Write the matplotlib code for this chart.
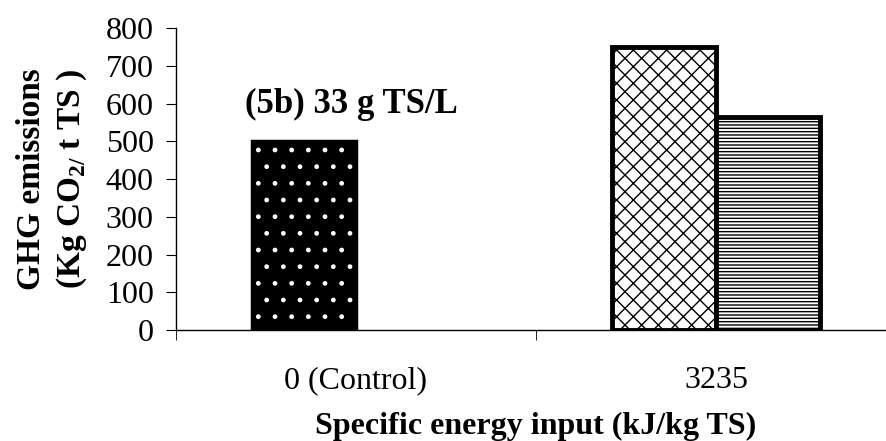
import numpy as np
import matplotlib
matplotlib.use("Agg")
import matplotlib.pyplot as plt

# data
categories = ["0 (Control)", "3235"]
control = [500]          # dotted bar, control
series_a = [750]         # brick-hatched bar, 3235 kJ/kg TS
series_b = [563]         # horizontal-line bar, 3235 kJ/kg TS
yticks = [0, 100, 200, 300, 400, 500, 600, 700, 800]

plt.rcParams['font.family'] = ['Liberation Serif', 'DejaVu Serif']
plt.rcParams['mathtext.fontset'] = 'custom'
plt.rcParams['mathtext.rm'] = 'Liberation Serif'
plt.rcParams['mathtext.bf'] = 'Liberation Serif:bold'
plt.rcParams['hatch.linewidth'] = 1.0

fig = plt.figure(figsize=(8.87, 4.41), dpi=100)
ax = fig.add_axes([0.1984, 0.2517, 0.8117, 0.6848])

w = 0.29
# control: black bar with white dots
ax.bar([0.5 - w / 2], control, width=w, color="black", edgecolor="white",
       hatch=".", linewidth=0, zorder=2)
ax.bar([0.5 - w / 2], control, width=w, fill=False, edgecolor="black",
       linewidth=2.5, zorder=3)

# 3235: two treated bars
ax.bar([1.5 - w / 2], series_a, width=w, color="white", edgecolor="black",
       hatch="xx", linewidth=3.5, zorder=2)
ax.bar([1.5 + w / 2], series_b, width=w, color="white", edgecolor="black",
       hatch="-----", linewidth=3.5, zorder=2)

ax.set_xlim(0, 2)
ax.set_ylim(0, 800)
ax.set_yticks(yticks)
ax.tick_params(axis='y', labelsize=23, length=7, pad=9, direction='out')

ax.set_xticks([0.5, 1.5])
ax.set_xticklabels(categories)
ax.set_xticks([0, 1, 2], minor=True)
ax.tick_params(axis='x', which='major', length=0, labelsize=23, pad=26)
ax.tick_params(axis='x', which='minor', length=7, direction='out')

for s in ['top', 'right']:
    ax.spines[s].set_visible(False)
for s in ['left', 'bottom']:
    ax.spines[s].set_linewidth(1.0)

ax.set_xlabel("Specific energy input (kJ/kg TS)", fontsize=23,
              fontweight='bold', labelpad=12)
ax.set_ylabel("GHG emissions\n(Kg CO$_{\\mathbf{2/}}$ t TS )", fontsize=24,
              fontweight='bold', labelpad=12, linespacing=1.3)

ax.text(0.096, 0.72, "(5b) 33 g TS/L", transform=ax.transAxes, fontsize=25,
        fontweight='bold')

fig.savefig("out.png", dpi=100)
